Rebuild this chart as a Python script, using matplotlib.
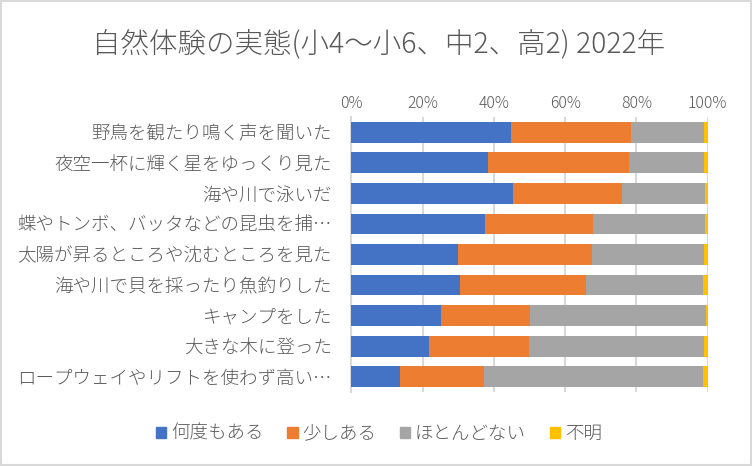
import matplotlib
matplotlib.use("Agg")
from matplotlib import pyplot as plt
from matplotlib.patches import Rectangle
import numpy as np

plt.rcParams["font.family"] = ["Noto Sans CJK JP", "DejaVu Sans"]
plt.rcParams["font.weight"] = "light"

title = "自然体験の実態(小4～小6、中2、高2) 2022年"
categories = [
    "野鳥を観たり鳴く声を聞いた",
    "夜空一杯に輝く星をゆっくり見た",
    "海や川で泳いだ",
    "蝶やトンボ、バッタなどの昆虫を捕…",
    "太陽が昇るところや沈むところを見た",
    "海や川で貝を採ったり魚釣りした",
    "キャンプをした",
    "大きな木に登った",
    "ロープウェイやリフトを使わず高い…",
]
series_names = ["何度もある", "少しある", "ほとんどない", "不明"]
many = [44.8, 38.4, 45.4, 37.5, 29.9, 30.5, 25.2, 21.9, 13.7]
some = [33.7, 39.5, 30.5, 30.3, 37.6, 35.4, 24.9, 28.0, 23.5]
rarely = [20.4, 21.0, 23.4, 31.5, 31.4, 32.8, 49.3, 49.1, 61.5]
unknown = [1.1, 1.1, 0.7, 0.7, 1.1, 1.3, 0.6, 1.0, 1.3]
ticks = [0, 20, 40, 60, 80, 100]
tick_labels = ["0%", "20%", "40%", "60%", "80%", "100%"]

colors = ["#4472c4", "#ed7d31", "#a5a5a5", "#ffc000"]
text_col = "#595959"

fig = plt.figure(figsize=(7.52, 4.66), dpi=100)
ax = fig.add_axes([0.4672, 0.1588, 0.4739, 0.590])

y = np.arange(len(categories))
left = np.zeros(len(categories))
for name, vals, c in zip(series_names, [many, some, rarely, unknown], colors):
    ax.barh(y, vals, left=left, height=0.68, color=c, label=name, zorder=3)
    left = left + np.array(vals)

ax.set_xlim(0, 100)
ax.set_ylim(len(categories) - 0.5, -0.5)
ax.set_yticks(y)
ax.set_yticklabels(categories, fontsize=13.3, color=text_col)
ax.set_xticks(ticks)
ax.set_xticklabels(tick_labels, fontsize=11.3, color=text_col)
ax.xaxis.tick_top()
ax.tick_params(axis="both", length=0, pad=4)
ax.tick_params(axis="y", pad=14)
ax.grid(axis="x", color="#d9d9d9", linewidth=1.5, zorder=0)
for s in ["top", "right", "bottom"]:
    ax.spines[s].set_visible(False)
ax.spines["left"].set_color("#d9d9d9")
ax.spines["left"].set_linewidth(1.5)

fig.text(0.503, 1 - 44 / 466, title, ha="center", va="center",
         fontsize=20.5, color=text_col)

handles = [Rectangle((0, 0), 1, 1, color=c) for c in colors]
fig.legend(handles, series_names, loc="center", bbox_to_anchor=(0.504, 1 - 434 / 466),
           ncol=4, frameon=False, fontsize=13.3, handlelength=0.55, handleheight=0.55,
           handletextpad=0.25, columnspacing=1.3, labelcolor=text_col)

fig.patches.append(Rectangle((0.001, 0.002), 0.998, 0.996, transform=fig.transFigure,
                             fill=False, edgecolor="#d9d9d9", linewidth=1.5))

fig.savefig("out.png", dpi=100)
